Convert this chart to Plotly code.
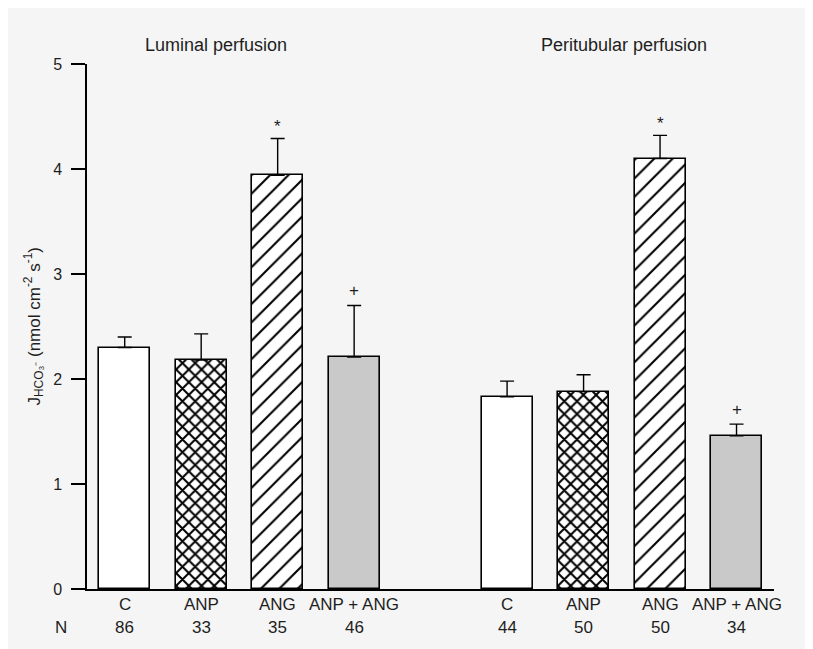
import plotly.graph_objects as go

# ---- data ----
groups = ["Luminal perfusion", "Peritubular perfusion"]
treatments = ["C", "ANP", "ANG", "ANP + ANG"]
luminal_mean = [2.30, 2.18, 3.94, 2.21]
luminal_sem = [0.10, 0.25, 0.35, 0.49]
luminal_n = ["86", "33", "35", "46"]
luminal_sig = ["", "", "*", "+"]
peri_mean = [1.83, 1.88, 4.10, 1.46]
peri_sem = [0.15, 0.16, 0.22, 0.11]
peri_n = ["44", "50", "50", "34"]
peri_sig = ["", "", "*", "+"]
y_ticks = [0, 1, 2, 3, 4, 5]

FONT = "Liberation Sans, Arial, sans-serif"
TXT = "#1e1e1e"

# bar styles per treatment
fills = ["white", "white", "white", "#c9c9c9"]
pat_shapes = ["", "x", "/", ""]
pat_sizes = [8, 9, 13, 8]
pat_sol = [0.3, 0.4, 0.16, 0.3]

x_lum = [0, 1, 2, 3]
x_per = [5, 6, 7, 8]

fig = go.Figure()
for xs, means, sems in [(x_lum, luminal_mean, luminal_sem), (x_per, peri_mean, peri_sem)]:
    for i in range(4):
        marker = dict(color=fills[i], line=dict(color="black", width=1.6))
        if pat_shapes[i]:
            marker["pattern"] = dict(shape=pat_shapes[i], size=pat_sizes[i],
                                     solidity=pat_sol[i], fgcolor="black", fgopacity=1,
                                     bgcolor="white", fillmode="overlay")
        fig.add_trace(go.Bar(
            x=[xs[i]], y=[means[i]], width=0.667, marker=marker,
            error_y=dict(type="data", array=[sems[i]], arrayminus=[0], symmetric=False,
                         color="black", thickness=1.4, width=7),
            showlegend=False, hoverinfo="skip"))

annotations = []
# group titles
annotations.append(dict(x=1.2, y=1.0, xref="x", yref="paper", yshift=19, yanchor="middle",
                        text=groups[0], showarrow=False,
                        font=dict(size=18, color=TXT, family=FONT)))
annotations.append(dict(x=6.53, y=1.0, xref="x", yref="paper", yshift=19, yanchor="middle",
                        text=groups[1], showarrow=False,
                        font=dict(size=18, color=TXT, family=FONT)))
# category labels and N
for xs, ns in [(x_lum, luminal_n), (x_per, peri_n)]:
    for i in range(4):
        annotations.append(dict(x=xs[i], y=0, xref="x", yref="paper", yshift=-15, yanchor="middle",
                                text=treatments[i], showarrow=False,
                                font=dict(size=17, color=TXT, family=FONT)))
        annotations.append(dict(x=xs[i], y=0, xref="x", yref="paper", yshift=-38, yanchor="middle",
                                text=ns[i], showarrow=False,
                                font=dict(size=17, color=TXT, family=FONT)))
annotations.append(dict(x=0, y=0, xref="paper", yref="paper", yshift=-38, xshift=-26,
                        yanchor="middle", xanchor="center", text="N", showarrow=False,
                        font=dict(size=17, color=TXT, family=FONT)))
# significance marks
for xs, means, sems, sig in [(x_lum, luminal_mean, luminal_sem, luminal_sig),
                             (x_per, peri_mean, peri_sem, peri_sig)]:
    for i in range(4):
        if sig[i]:
            annotations.append(dict(x=xs[i], y=means[i] + sems[i], xref="x", yref="y",
                                    yanchor="middle", yshift=15 if sig[i] == "+" else 12,
                                    text=sig[i], showarrow=False,
                                    font=dict(size=17, color=TXT, family=FONT)))
# y axis title
annotations.append(dict(x=0, y=0.5, xref="paper", yref="paper", xshift=-53, xanchor="center",
                        yanchor="middle", textangle=-90,
                        text="J<sub>HCO₃⁻</sub> (nmol cm<sup>-2</sup> s<sup>-1</sup>)",
                        showarrow=False, font=dict(size=17, color=TXT, family=FONT)))

# figure placed at (8, 8) in the page; plot area 79..766 x 56..581 within it
fig.update_layout(
    width=813, height=649,
    margin=dict(l=79, r=47, t=56, b=68),
    paper_bgcolor="#f5f5f5",
    plot_bgcolor="rgba(0,0,0,0)",
    bargap=0,
    font=dict(family=FONT, color=TXT),
    annotations=annotations,
    xaxis=dict(range=[-0.493, 8.49], showgrid=False, zeroline=False, showline=True,
               linecolor="black", linewidth=1.5, ticks="", showticklabels=False, fixedrange=True),
    yaxis=dict(range=[0, 5], tickvals=y_ticks, ticktext=[str(v) for v in y_ticks],
               showgrid=False, zeroline=False, showline=True, linecolor="black", linewidth=1.5,
               ticks="outside", ticklen=14, tickwidth=1.5, tickcolor="black",
               tickfont=dict(size=16, color=TXT, family=FONT), ticklabelstandoff=6),
)

fig.write_html("out.html", post_script="document.body.style.overflow='hidden';")
